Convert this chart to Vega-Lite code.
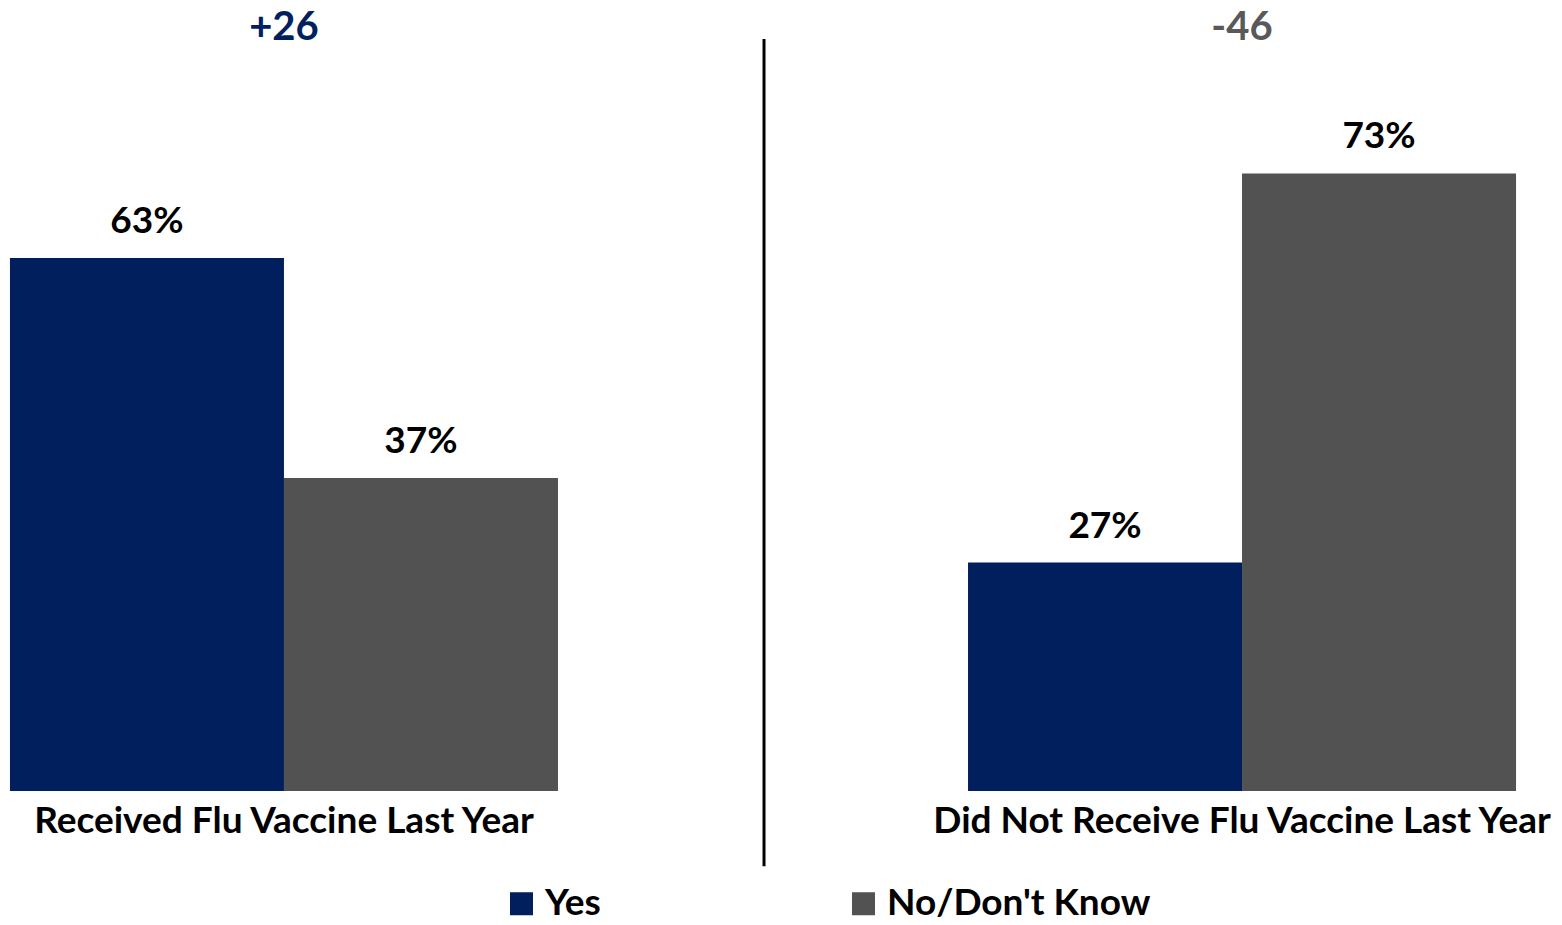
{
  "$schema": "https://vega.github.io/schema/vega-lite/v6.json",
  "width": 1526,
  "height": 791,
  "autosize": {"type": "none"},
  "padding": {"left": 0, "top": 0, "right": 36, "bottom": 134},
  "background": "white",
  "config": {"view": {"stroke": null}, "font": "Lato"},
  "datasets": {
    "bars": [
      {"group": "Received Flu Vaccine Last Year", "series": "Yes", "value": 63},
      {"group": "Received Flu Vaccine Last Year", "series": "No/Don't Know", "value": 37},
      {"group": "Did Not Receive Flu Vaccine Last Year", "series": "Yes", "value": 27},
      {"group": "Did Not Receive Flu Vaccine Last Year", "series": "No/Don't Know", "value": 73}
    ],
    "heads": [
      {"group": "Received Flu Vaccine Last Year", "label": "+26"},
      {"group": "Did Not Receive Flu Vaccine Last Year", "label": "-46"}
    ]
  },
  "layer": [
    {
      "data": {"name": "bars"},
      "mark": {"type": "bar"},
      "encoding": {
        "x": {"field": "group", "type": "nominal",
              "scale": {"domain": ["Received Flu Vaccine Last Year", "Did Not Receive Flu Vaccine Last Year"], "paddingInner": 0.428, "paddingOuter": 0.0104},
              "axis": {"title": null, "ticks": false, "domain": false, "labelAngle": 0, "labelFontSize": 37, "labelFontWeight": "bold", "labelColor": "black", "labelFont": "Lato", "labelBaseline": "alphabetic", "labelPadding": 41, "labelLimit": 0}},
        "xOffset": {"field": "series", "type": "nominal", "scale": {"domain": ["Yes", "No/Don't Know"], "paddingInner": 0, "paddingOuter": 0}},
        "y": {"field": "value", "type": "quantitative", "scale": {"domain": [0, 93.5], "nice": false, "zero": true}, "axis": null},
        "color": {"field": "series", "type": "nominal",
                  "scale": {"domain": ["Yes", "No/Don't Know"], "range": ["#001F5C", "#525252"]},
                  "legend": {"title": null, "orient": "none", "legendX": 503, "legendY": 885, "direction": "horizontal", "symbolType": "square", "symbolSize": 529, "symbolStrokeWidth": 0, "symbolOpacity": 1, "labelFontSize": 37, "labelFontWeight": "bold", "labelFont": "Lato", "labelColor": "black", "labelOffset": 5, "gridAlign": "all", "columnPadding": 36, "padding": 0, "labelLimit": 0}}
      }
    },
    {
      "data": {"name": "bars"},
      "transform": [{"calculate": "datum.value + '%'", "as": "label"}],
      "mark": {"type": "text", "fontSize": 37, "fontWeight": "bold", "font": "Lato", "color": "black", "baseline": "alphabetic", "dy": -25},
      "encoding": {
        "x": {"field": "group", "type": "nominal"},
        "xOffset": {"field": "series", "type": "nominal"},
        "y": {"field": "value", "type": "quantitative"},
        "text": {"field": "label", "type": "nominal"}
      }
    },
    {
      "data": {"name": "heads"},
      "mark": {"type": "text", "fontSize": 40, "fontWeight": "bold", "font": "Lato", "baseline": "alphabetic"},
      "encoding": {
        "x": {"field": "group", "type": "nominal"},
        "y": {"datum": 88.8, "type": "quantitative"},
        "text": {"field": "label"},
        "color": {"condition": {"test": "datum.label == '+26'", "value": "#002060"}, "value": "#595959"}
      }
    },
    {
      "mark": {"type": "rule", "color": "black", "strokeWidth": 3},
      "data": {"values": [{"k": 1}]},
      "encoding": {
        "x": {"datum": "Received Flu Vaccine Last Year", "type": "nominal", "bandPosition": 1.376},
        "y": {"datum": 88.9, "type": "quantitative"},
        "y2": {"datum": -8.9}
      }
    }
  ]
}
